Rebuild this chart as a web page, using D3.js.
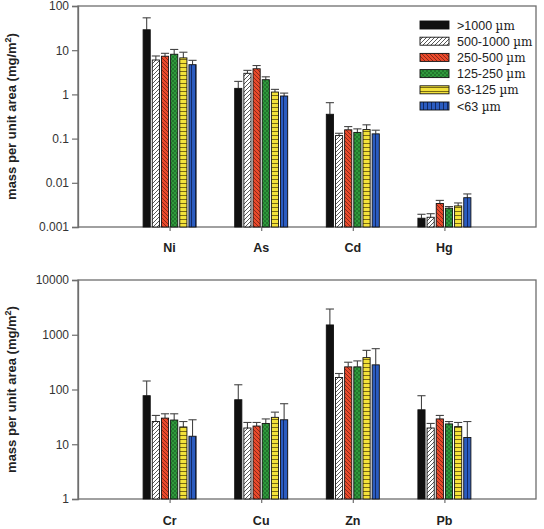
<!DOCTYPE html>
<html><head><meta charset="utf-8">
<script src="https://cdn.jsdelivr.net/npm/d3@7"></script>
<style>body{margin:0;background:#fff}svg{display:block;font-family:"Liberation Sans",Arial,sans-serif}</style>
</head><body><svg id="c" width="544" height="529"></svg>
<script>
const series = [">1000 µm","500-1000 µm","250-500 µm","125-250 µm","63-125 µm","<63 µm"];
const topCats = ["Ni","As","Cd","Hg"];
const topVals = [
  [29, 6.0, 7.3, 8.1, 6.7, 4.7],
  [1.37, 3.0, 3.8, 2.15, 1.13, 0.92],
  [0.355, 0.117, 0.158, 0.138, 0.16, 0.128],
  [0.00158, 0.00166, 0.0034, 0.00266, 0.0030, 0.0046]
];
const topErr = [
  [54, 7.4, 8.5, 10.4, 9.0, 5.9],
  [1.97, 3.5, 4.5, 2.5, 1.3, 1.07],
  [0.65, 0.132, 0.187, 0.166, 0.205, 0.155],
  [0.00194, 0.0020, 0.0040, 0.0029, 0.0035, 0.0056]
];
const botCats = ["Cr","Cu","Zn","Pb"];
const botVals = [
  [77, 26, 30, 27.7, 20.7, 14],
  [65, 19.8, 21.5, 24, 31, 28],
  [1510, 166, 259, 259, 382, 282],
  [42.6, 19.8, 29, 23.5, 21, 13.3]
];
const botErr = [
  [143, 33.6, 36, 36, 26, 28],
  [122, 25, 25, 29, 38.6, 55],
  [2950, 196, 315, 333, 519, 557],
  [77, 24, 33.6, 26, 25, 26]
];
const topTicks = [0.001, 0.01, 0.1, 1, 10, 100];
const topTickLabels = ["0.001","0.01","0.1","1","10","100"];
const botTicks = [1, 10, 100, 1000, 10000];
const botTickLabels = ["1","10","100","1000","10000"];

const svg = d3.select("#c");
const defs = svg.append("defs");
function pat(id, bg, draw){
  const p = defs.append("pattern").attr("id", id).attr("patternUnits","userSpaceOnUse").attr("width",4).attr("height",4);
  p.append("rect").attr("width",4).attr("height",4).attr("fill",bg);
  draw(p);
}
pat("p1","#fff",p=>{p.append("path").attr("d","M-1,1 L1,-1 M0,4 L4,0 M3,5 L5,3").attr("stroke","#444").attr("stroke-width",0.9);});
pat("p2","#ea4a2c",p=>{p.append("path").attr("d","M-1,3 L1,5 M0,0 L4,4 M3,-1 L5,1").attr("stroke","#6a1e12").attr("stroke-width",0.75);});
pat("p3","#2f9a3c",p=>{p.append("circle").attr("cx",1).attr("cy",1).attr("r",0.7).attr("fill","#0d3a14");p.append("circle").attr("cx",3).attr("cy",3).attr("r",0.7).attr("fill","#0d3a14");});
pat("p4","#f3e23a",p=>{p.append("path").attr("d","M0,3.5 L4,3.5").attr("stroke","#6b5c10").attr("stroke-width",0.9);});
pat("p5","#2b5cc0",p=>{p.append("path").attr("d","M3.5,0 L3.5,4").attr("stroke","#10245a").attr("stroke-width",0.9);});
const fills = ["#111","url(#p1)","url(#p2)","url(#p3)","url(#p4)","url(#p5)"];

const x0 = 78, x1 = 536;
const axisColor = "#6e6e6e";
function panel(cats, vals, errs, ticks, tickLabels, yTop, yBot, labelY, legend){
  const g = svg.append("g");
  const x = d3.scaleLinear().domain([0, 5]).range([x0, x1]);
  const y = d3.scaleLog().domain([ticks[0], ticks[ticks.length-1]]).range([yBot, yTop]);
  const inner = d3.scaleBand().domain(d3.range(series.length)).range([-26.5, 26.5]).paddingInner(0.22);
  g.append("rect").attr("x",x0).attr("y",yTop).attr("width",x1-x0).attr("height",yBot-yTop)
    .attr("fill","none").attr("stroke",axisColor).attr("stroke-width",1.3);
  const ya = g.append("g").attr("transform",`translate(${x0},0)`)
    .call(d3.axisLeft(y).tickValues(ticks).tickFormat((d,i)=>tickLabels[i]).tickSize(6).tickPadding(3));
  ya.select(".domain").attr("stroke",axisColor).attr("stroke-width",1.3);
  ya.selectAll(".tick line").attr("stroke",axisColor).attr("stroke-width",1.2);
  ya.selectAll(".tick text").attr("font-size",12).attr("fill","#333").attr("font-family","Liberation Sans, Arial, sans-serif");
  const xa = g.append("g").attr("transform",`translate(0,${yBot})`)
    .call(d3.axisBottom(x).tickValues(d3.range(1, cats.length+1)).tickFormat("").tickSize(4));
  xa.select(".domain").remove();
  xa.selectAll(".tick line").attr("stroke",axisColor).attr("stroke-width",1.2);
  g.selectAll(".cl").data(cats).join("text").attr("x",(d,i)=>x(i+1)).attr("y",labelY)
    .attr("text-anchor","middle").attr("font-size",12.5).attr("font-weight","bold").attr("fill","#222").text(d=>d);
  cats.forEach((c,ci)=>{
    const cx = x(ci+1);
    vals[ci].forEach((v,si)=>{
      const bx = cx + inner(si), bw = inner.bandwidth();
      const ey = y(errs[ci][si]);
      g.append("line").attr("x1",bx+bw/2).attr("x2",bx+bw/2).attr("y1",y(v)).attr("y2",ey).attr("stroke","#444").attr("stroke-width",1.1);
      g.append("line").attr("x1",bx-0.5).attr("x2",bx+bw+0.5).attr("y1",ey).attr("y2",ey).attr("stroke","#444").attr("stroke-width",1.1);
      g.append("rect").attr("x",bx).attr("y",y(v)).attr("width",bw).attr("height",yBot-y(v))
        .attr("fill",fills[si]).attr("stroke","#111").attr("stroke-width",0.9);
    });
  });
  const t = g.append("text").attr("transform",`translate(16,${(yTop+yBot)/2}) rotate(-90)`)
    .attr("text-anchor","middle").attr("font-size",13).attr("font-weight","bold").attr("fill","#222");
  t.append("tspan").text("mass per unit area (mg/m");
  t.append("tspan").attr("baseline-shift","super").attr("font-size",9).text("2");
  t.append("tspan").text(")");
  if(legend){
    const lg = g.append("g");
    series.forEach((s,i)=>{
      const ly = 25 + i*16.2;
      lg.append("rect").attr("x",420).attr("y",ly-4).attr("width",29).attr("height",8)
        .attr("fill",fills[i]).attr("stroke","#111").attr("stroke-width",0.9);
      const parts = s.split(" ");
      const tt = lg.append("text").attr("x",457).attr("y",ly+4.5).attr("font-size",12.5).attr("fill","#222");
      tt.append("tspan").text(parts[0]+" ");
      tt.append("tspan").attr("font-family","DejaVu Serif, serif").attr("font-size",12).text(parts[1]);
    });
  }
}
panel(topCats, topVals, topErr, topTicks, topTickLabels, 6, 227, 252, true);
panel(botCats, botVals, botErr, botTicks, botTickLabels, 280, 499, 525, false);
</script></body></html>
